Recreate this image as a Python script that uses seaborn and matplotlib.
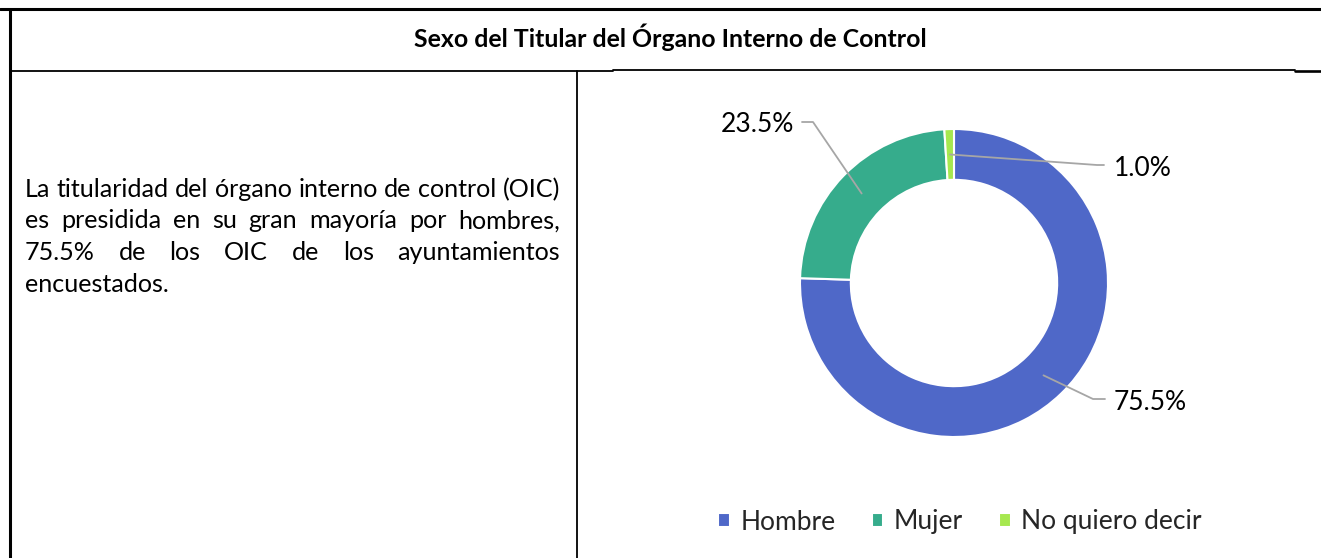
import matplotlib
matplotlib.use("Agg")
import matplotlib.pyplot as plt
import seaborn as sns
import numpy as np

# datos
categorias = ["Hombre", "Mujer", "No quiero decir"]
porcentajes = [75.5, 23.5, 1.0]
colores = ["#4F68C8", "#36AC8C", "#A6E84F"]

titulo = "Sexo del Titular del Órgano Interno de Control"
parrafo = ["La titularidad del órgano interno de control (OIC)",
           "es presidida en su gran mayoría por hombres,",
           "75.5% de los OIC de los ayuntamientos",
           "encuestados."]

# estilo
sns.set_theme(style="white")
plt.rcParams['font.family'] = ['Lato', 'DejaVu Sans']
paleta = sns.color_palette(colores)

W, H = 1321, 558
fig = plt.figure(figsize=(W / 100, H / 100), dpi=100)
fig.patch.set_facecolor("white")

# donut (centro y radio en pixeles)
cx, cy, R = 954, 283, 154
ax_pie = fig.add_axes([(cx - R) / W, 1 - (cy + R) / H, 2 * R / W, 2 * R / H])
wedges, _ = ax_pie.pie(porcentajes, colors=paleta, startangle=90, counterclock=False,
                       radius=1, wedgeprops=dict(width=0.33, edgecolor="white", linewidth=1.5))
ax_pie.set_xlim(-1, 1)
ax_pie.set_ylim(-1, 1)
ax_pie.axis("off")

# capa en pixeles para la tabla y textos
ax = fig.add_axes([0, 0, 1, 1])
ax.set_xlim(0, W)
ax.set_ylim(H, 0)
ax.axis("off")

# bordes de la tabla
ax.plot([0, W], [9, 9], color="black", lw=2.2)
ax.plot([10, 10], [9, H], color="black", lw=2.2)
ax.plot([10, 613], [71, 71], color="black", lw=1.3)
ax.plot([613, 1295], [70, 70], color="black", lw=1.3)
ax.plot([1295, W], [71, 71], color="black", lw=1.9)
ax.plot([577, 577], [71, H], color="black", lw=1.3)

ax.text(670, 47, titulo, ha="center", va="baseline", fontsize=17.9,
        fontweight="bold", color="black")

# parrafo justificado
renderer = fig.canvas.get_renderer()


def ancho(txt, fs):
    t = ax.text(0, 0, txt, fontsize=fs)
    w = t.get_window_extent(renderer).width
    t.remove()
    return w


x0, x1 = 25, 560
fs = 19
while ancho(parrafo[0], fs) > (x1 - x0) and fs > 10:
    fs -= 0.1
bases = [197, 228.5, 260, 291.5]
for i, linea in enumerate(parrafo):
    palabras = linea.split()
    if i == len(parrafo) - 1 or len(palabras) == 1:
        ax.text(x0, bases[i], linea, fontsize=fs, va="baseline", color="black")
        continue
    anchos = [ancho(p, fs) for p in palabras]
    hueco = ((x1 - x0) - sum(anchos)) / (len(palabras) - 1)
    x = x0
    for p, a in zip(palabras, anchos):
        ax.text(x, bases[i], p, fontsize=fs, va="baseline", color="black")
        x += a + hueco

# etiquetas con lineas guia
codos = {"Hombre": [(1093, 399), (1105, 399)],
         "Mujer": [(813, 122), (802, 122)],
         "No quiero decir": [(1097, 165), (1104, 165)]}
pos_txt = {"Hombre": (1114, 410, "left"),
           "Mujer": (794, 132, "right"),
           "No quiero decir": (1114, 176, "left")}
r_medio = 1 - 0.33 / 2
for w, cat, val in zip(wedges, categorias, porcentajes):
    ang = np.deg2rad((w.theta1 + w.theta2) / 2)
    px = cx + r_medio * R * np.cos(ang)
    py = cy - r_medio * R * np.sin(ang)
    pts = [(px, py)] + codos[cat]
    ax.plot([p[0] for p in pts], [p[1] for p in pts], color="#A6A6A6", lw=1.3)
    tx, ty, ha = pos_txt[cat]
    ax.text(tx, ty, f"{val:.1f}%", ha=ha, va="baseline", fontsize=19, color="black")

# leyenda
fig.legend(wedges, categorias, loc="center", bbox_to_anchor=(960 / W, 1 - 522 / H),
           ncol=3, frameon=False, fontsize=19, handlelength=0.45, handleheight=0.45,
           handletextpad=0.4, columnspacing=1.35)

fig.savefig("out.png", dpi=100)
